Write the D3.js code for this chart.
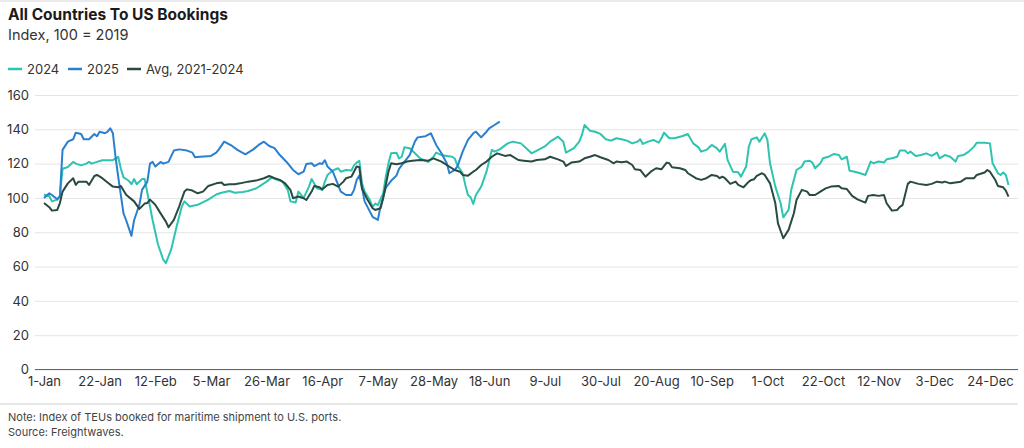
<!DOCTYPE html>
<html>
<head>
<meta charset="utf-8">
<script src="https://cdn.jsdelivr.net/npm/d3@7"></script>
<style>
  body { margin: 0; background: #fff; font-family: Inter, "Noto Sans", sans-serif; }
  .tick text { font-family: Inter, "Noto Sans", sans-serif; }
</style>
</head>
<body>
<svg id="chart" width="1024" height="448"></svg>
<script>
// x axis labels, every 21 days
const tickLabels = ["1-Jan", "22-Jan", "12-Feb", "5-Mar", "26-Mar", "16-Apr", "7-May", "28-May", "18-Jun",
  "9-Jul", "30-Jul", "20-Aug", "10-Sep", "1-Oct", "22-Oct", "12-Nov", "3-Dec", "24-Dec"]
const yTicks = [0, 20, 40, 60, 80, 100, 120, 140, 160]

// [day of year, index]
const series2024 = [[0,102],[2,101],[3,98],[5,99],[6,101],[7,117],[9,118],[11,121],[12,120],[14,119],[16,120],[17,121],[18,120],[20,121],[22,122],[24,122],[26,122],[28,124],[29,117],[30,112],[32,110],[33,108],[34,111],[35,108],[37,111],[38,111],[39,103],[41,87],[43,73],[45,64],[46,62],[48,70],[50,83],[52,95],[53,98],[55,95],[58,96],[62,99],[65,102],[67,103],[70,104],[72,103],[75,103.5],[77,104],[80,105.5],[82,107.5],[84,109.5],[86,112],[88,110.5],[90,109.5],[92,104.7],[93,98],[95,97.3],[96,103.7],[98,100],[100,106.6],[101,111],[103,105.6],[105,104.7],[106,109.5],[107,113.4],[109,116],[111,117.3],[112,115.3],[114,116.3],[116,116],[117,119],[118,120.6],[119,121.7],[120,108.5],[121,103.7],[123,98.8],[124,94.8],[125,96.7],[126,95.8],[128,102.7],[129,112.4],[130,120.2],[131,126],[133,126.4],[134,123],[135,124],[136,129.5],[138,129],[140,126],[142,123],[145,121],[147,124],[148,126.4],[150,125],[152,124.5],[154,124],[155,123],[156,119],[158,114.4],[159,107.6],[160,101.7],[161,100.4],[162,96.5],[163,101.7],[165,106.6],[167,115.3],[168,121.5],[169,128],[170,127],[172,128.3],[175,131.8],[177,132.8],[180,131.8],[182,129],[184,126],[186,127.6],[189,130],[191,132.8],[194,135.7],[196,132.8],[197,126.4],[200,129],[202,132.8],[203,136.7],[204,142.5],[206,139.2],[208,138.6],[210,137.3],[212,134.2],[214,133.4],[216,134.8],[218,134.2],[220,133.4],[222,131.8],[224,132.8],[225,134.2],[226,131.5],[228,132.8],[230,133.8],[232,132.2],[233,134.8],[234,138],[236,134.8],[238,134.8],[240,135.7],[241,136.1],[243,137.3],[245,131.8],[247,129.5],[248,127],[250,128],[252,130.9],[254,128.9],[255,127],[257,131.5],[258,122],[260,115.3],[262,115],[263,112.4],[265,118.3],[266,129.9],[267,134.2],[269,135.3],[270,132.8],[272,137.7],[273,133.8],[274,120.2],[276,106.6],[278,96.9],[279,88.7],[281,93],[282,104.7],[284,116.3],[286,118.3],[287,121.2],[289,121.7],[290,120.6],[291,117.3],[293,120.2],[294,123.1],[296,124],[298,125.6],[300,125],[301,122.5],[303,124],[304,115.9],[306,115.3],[308,114.4],[310,113.4],[311,117.3],[312,121.2],[313,120.2],[315,121.2],[317,120.6],[318,122.5],[320,123.1],[322,124],[323,127.6],[325,127.6],[326,126],[327,127],[329,124.5],[331,125],[333,126],[335,124.5],[337,126.4],[338,123.1],[340,125],[342,124],[344,121.2],[345,124.5],[347,125],[349,127],[351,129.9],[352,132.2],[355,132.2],[357,131.8],[358,120.2],[360,114.4],[361,113.4],[362,114.8],[363,113.4],[364,107.6]]

const series2025 = [[0,100],[2,102.7],[3,101.7],[5,99.2],[6,101],[7,128],[9,132.8],[11,134.2],[12,138],[14,137.3],[15,134.2],[17,134.2],[19,137.3],[20,136],[21,138.6],[23,137.7],[24,138.6],[25,140.6],[26,137.7],[27,124],[28,112.4],[30,91],[31,87],[33,77.9],[34,87],[36,96],[37,104.7],[39,109.5],[40,120],[41,121],[42,118.3],[44,121],[45,120],[47,121],[49,127.6],[51,128.3],[54,127.6],[56,126.4],[57,123.7],[59,124],[63,124.5],[65,126.4],[66,128.3],[68,132.8],[71,130.3],[73,128],[76,125.4],[79,128.3],[81,130.9],[83,132.8],[85,130.3],[87,129],[89,125],[92,120.2],[94,116.3],[96,113.8],[98,115.3],[99,119.8],[101,120.2],[102,118.6],[104,120.2],[105,119.8],[106,122],[107,118.3],[109,115.3],[111,107.6],[112,103.7],[114,101.7],[116,101.7],[117,104.7],[118,110.5],[119,113],[120,106],[121,98],[123,92],[124,89],[126,87.2],[127,95],[129,106],[131,110],[133,113],[134,117],[136,121],[138,125],[140,133],[141,135.3],[144,136],[146,137.7],[148,130.9],[150,126],[152,120.2],[153,114.4],[155,116.3],[156,118.3],[158,127],[160,133.8],[162,137.7],[163,138.6],[165,135.3],[167,138.6],[168,140.6],[170,142.5],[172,144.5]]

const seriesAvg = [[0,97],[2,94.6],[3,92.6],[5,93],[6,97],[7,103.7],[9,108.5],[11,111.5],[12,107.6],[13,109.5],[16,109.5],[17,107.6],[19,112.8],[20,113.4],[22,111.5],[24,109],[26,106.6],[28,106.2],[29,107],[31,101.9],[34,98],[36,93.6],[38,96.7],[39,97],[40,99],[42,96],[44,91],[46,86.2],[47,82.9],[49,87.2],[51,95],[53,103.7],[54,105],[56,104.3],[58,102.7],[60,103.7],[62,107],[65,108.5],[67,109],[68,107.5],[70,108],[72,108],[74,108.5],[77,109.5],[80,110.1],[83,111.5],[85,112.8],[87,111.5],[89,110.5],[91,108.5],[93,104.7],[94,99.8],[96,100.8],[98,99.8],[99,98.8],[101,103.7],[102,107],[104,106.2],[105,105],[107,107.6],[109,108.2],[111,106.6],[113,109.5],[114,111.5],[116,112.4],[118,118.3],[119,117.9],[120,105.6],[122,99.2],[124,94],[125,93],[127,94],[128,99.8],[129,107.6],[130,115.3],[131,120.2],[133,119.6],[135,120.2],[137,121.2],[139,121.7],[142,122.1],[145,121.7],[147,123.1],[150,121.2],[152,119.2],[155,116.3],[157,115.3],[158,113.4],[160,113],[162,115.3],[163,116.3],[165,119.2],[167,121.2],[169,124],[171,126],[174,124.5],[176,125],[179,122.1],[181,121.7],[184,121.2],[186,122.1],[189,122.5],[191,124],[194,122.5],[196,121.2],[197,118.6],[199,120.6],[202,121.2],[204,123.1],[206,124],[208,125],[210,123.7],[213,122.1],[215,120.2],[216,121.2],[218,120.8],[220,121.2],[222,119.2],[223,116.7],[225,116.3],[227,112.4],[229,115.3],[231,117.3],[233,116.7],[235,120.6],[236,120.2],[237,117.9],[240,117.3],[242,116.3],[243,114.4],[246,111.5],[248,110.5],[250,111.5],[252,113.4],[254,112.8],[255,111.5],[256,112.4],[257,111.5],[259,108.2],[261,109.5],[262,107.6],[264,106.2],[266,109.5],[267,110.5],[268,110.9],[269,112.8],[271,114.4],[272,113.4],[274,108.5],[276,96.9],[277,85.2],[279,76.5],[281,81.4],[283,91.1],[284,98.8],[286,104.7],[288,103.7],[289,101.7],[291,101.7],[293,103.7],[295,105.6],[297,106.6],[300,107],[301,105.6],[303,105.2],[305,101.2],[307,99.2],[310,97.3],[311,101.2],[313,101.7],[315,101.2],[317,101.7],[318,96.9],[320,92.6],[322,93],[323,94.8],[324,95.8],[326,108.2],[327,109.5],[330,108.2],[333,107.6],[335,108.2],[337,109.5],[339,109],[340,109.5],[342,108.5],[344,109],[346,109.5],[348,111.5],[351,111.5],[352,113.4],[355,114.8],[356,116.3],[357,115.3],[359,110.5],[360,107],[362,106.2],[363,104.3],[364,100.8]]

const seriesNames = ["2024", "2025", "Avg, 2021-2024"]
const seriesColors = ["#2ec4b0", "#2a7fcf", "#284a41"]

let svg = d3.select("#chart")

// top rule, titles
svg.append("line").attr("x1", 0).attr("x2", 1024).attr("y1", 1).attr("y2", 1)
  .attr("stroke", "#d6d6d6").attr("stroke-width", 1)
svg.append("text").attr("x", 8).attr("y", 19.5).text("All Countries To US Bookings")
  .style("font-size", "15.5px").style("font-weight", "700").attr("fill", "#1a1a1a")
svg.append("text").attr("x", 8).attr("y", 40).text("Index, 100 = 2019")
  .style("font-size", "14.5px").attr("fill", "#333")

// legend
let legendX = [8, 68, 127]
seriesNames.forEach(function (name, i) {
  let g = svg.append("g").attr("transform", "translate(" + legendX[i] + ",69)")
  g.append("line").attr("x1", 0).attr("x2", 14).attr("stroke", seriesColors[i]).attr("stroke-width", 2.5)
  g.append("text").attr("x", 19).attr("y", 0).attr("dy", "0.35em").text(name)
    .style("font-size", "13px").attr("fill", "#333")
})

// scales
let parseDay = function (d) { return new Date(2025, 0, 1 + d) }
let xScale = d3.scaleTime()
  .domain([parseDay(0), parseDay(364)])
  .range([44, 1008.5])
let yScale = d3.scaleLinear()
  .domain([0, 160])
  .range([369.5, 95])

// y gridlines and labels
let yAxis = d3.axisLeft(yScale)
  .tickValues(yTicks)
  .tickSize(-983)
  .tickPadding(6)
svg.append("g")
  .attr("class", "y-axis")
  .attr("transform", "translate(35,0)")
  .call(yAxis)
  .call(function (g) {
    g.select(".domain").remove()
    g.selectAll(".tick line").attr("stroke", "#e4e4e4").attr("x1", 0).attr("x2", 983)
    g.selectAll(".tick text").attr("x", -6).style("font-size", "13px").attr("fill", "#333")
  })

// x axis
let tickDates = tickLabels.map(function (t) { return d3.timeParse("%d-%b-%Y")(t + "-2025") })
let xAxis = d3.axisBottom(xScale)
  .tickValues(tickDates)
  .tickFormat(d3.timeFormat("%-d-%b"))
  .tickSize(0)
  .tickPadding(7)
svg.append("g")
  .attr("class", "x-axis")
  .attr("transform", "translate(0," + yScale(0) + ")")
  .call(xAxis)
  .call(function (g) {
    g.select(".domain").remove()
    g.selectAll(".tick text").style("font-size", "13px").attr("fill", "#333")
  })
svg.append("line").attr("x1", 35).attr("x2", 1018).attr("y1", yScale(0)).attr("y2", yScale(0))
  .attr("stroke", "#666").attr("stroke-width", 1.2)

// lines
let line = d3.line()
  .x(function (d) { return xScale(parseDay(d[0])) })
  .y(function (d) { return yScale(d[1]) })

let allSeries = [series2024, series2025, seriesAvg]
allSeries.forEach(function (s, i) {
  svg.append("path")
    .datum(s)
    .attr("d", line)
    .attr("fill", "none")
    .attr("stroke", seriesColors[i])
    .attr("stroke-width", 2)
    .attr("stroke-linejoin", "round")
})

// footer
svg.append("line").attr("x1", 0).attr("x2", 1018).attr("y1", 404).attr("y2", 404)
  .attr("stroke", "#cfcfcf").attr("stroke-width", 1)
svg.append("text").attr("x", 8).attr("y", 421).text("Note: Index of TEUs booked for maritime shipment to U.S. ports.")
  .style("font-size", "11px").attr("fill", "#444")
svg.append("text").attr("x", 8).attr("y", 436).text("Source: Freightwaves.")
  .style("font-size", "11px").attr("fill", "#444")
</script>
</body>
</html>
